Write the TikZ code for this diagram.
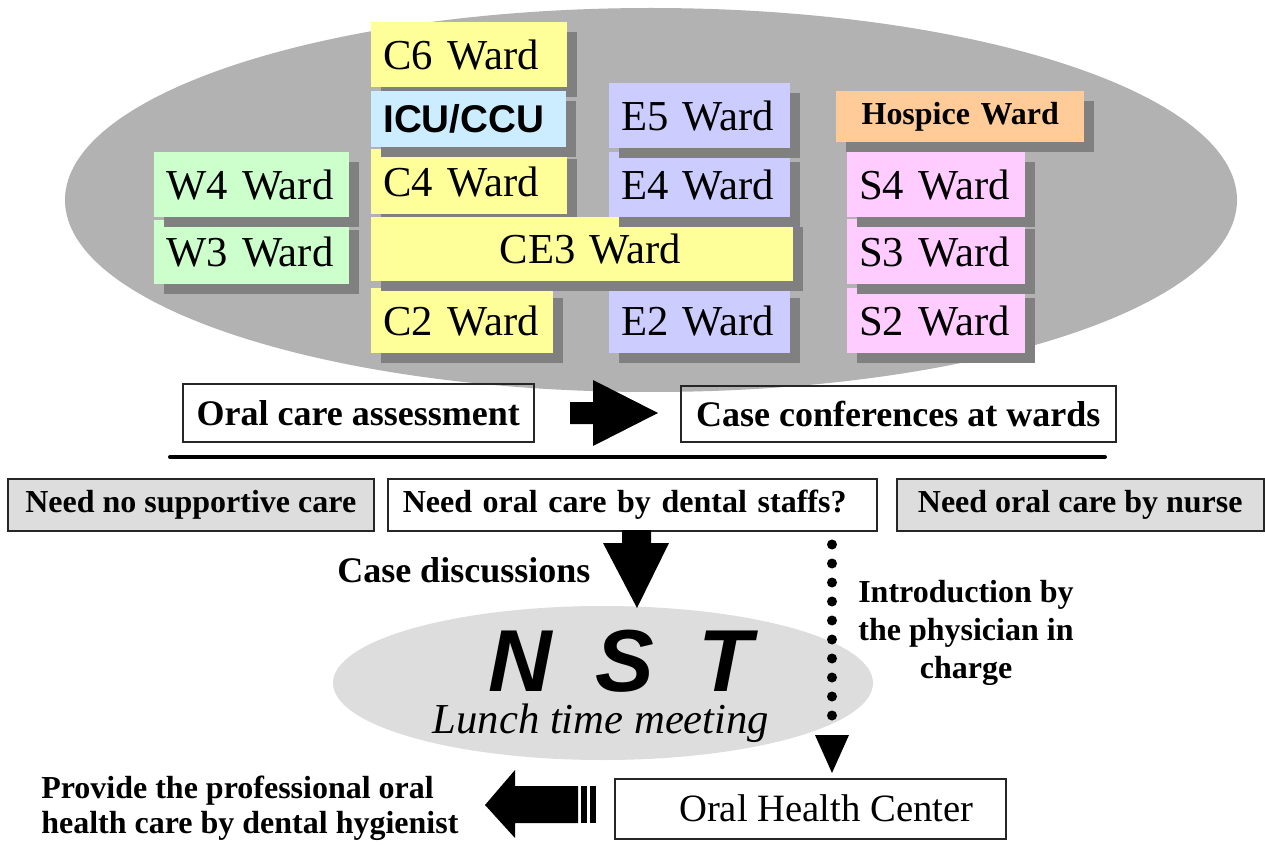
\documentclass[tikz,border=0pt]{standalone}
\usepackage{fontspec}
\setmainfont{Liberation Serif}
\setsansfont{Liberation Sans}
\usetikzlibrary{shadows,shapes.geometric}
\newdimen\px \px=0.75pt
\definecolor{yel}{HTML}{FFFF99}
\definecolor{icu}{HTML}{CCECFF}
\definecolor{grn}{HTML}{CCFFCC}
\definecolor{lav}{HTML}{CCCCFF}
\definecolor{pnk}{HTML}{FFCCFF}
\definecolor{org}{HTML}{FFCC99}
\definecolor{shd}{HTML}{808080}
\definecolor{bigell}{HTML}{B2B2B2}
\definecolor{lgray}{HTML}{DDDDDD}
\begin{document}
\begin{tikzpicture}[x=0.75pt,y=-0.75pt,
  wardbox/.style={anchor=north west, inner xsep=12\px, inner ysep=0pt, align=left,
    font=\fontsize{32}{36}\selectfont,
    drop shadow={shadow xshift=10\px, shadow yshift=-10\px, fill=shd, opacity=1}},
  lowbox/.style={anchor=north west, draw=black!85, line width=1.5\px, inner ysep=0pt,
    font=\bfseries\fontsize{27}{32}\selectfont},
  needbox/.style={anchor=north west, draw=black!85, line width=1.5\px, inner ysep=0pt,
    font=\bfseries\fontsize{24}{28}\selectfont, minimum height=52\px},
  dotline/.style={line width=10\px, line cap=round, dash pattern=on 0pt off 19\px},
  blockarrow/.style={fill=black}
]
\useasboundingbox (0,0) rectangle (1265,845);
\fill[white] (0,0) rectangle (1265,845);

% big ellipse
\node[ellipse, fill=bigell, minimum width=1172\px, minimum height=384\px, inner sep=0pt] (wards) at (651,200) {};

% ward boxes (lower rows first)
\node[wardbox, fill=yel, text width=158\px, minimum height=65\px] (c2) at (371,288) {C2 Ward};
\node[wardbox, fill=lav, text width=157\px, minimum height=65\px] (e2) at (609,288) {E2 Ward};
\node[wardbox, fill=pnk, text width=154\px, minimum height=65\px] (s2) at (847,288) {S2 Ward};
\node[wardbox, fill=grn, text width=171\px, minimum height=64\px] (w3) at (154,220) {W3 Ward};
\node[wardbox, fill=pnk, text width=154\px, minimum height=65\px] (s3) at (847,219) {S3 Ward};
\node[wardbox, fill=grn, text width=171\px, minimum height=65\px] (w4) at (154,152) {W4 Ward};
\node[wardbox, fill=yel, text width=172\px, minimum height=65\px] (c4) at (371,149) {C4 Ward};
\node[wardbox, fill=yel, text width=398\px, minimum height=64\px, align=center] (ce3) at (371,217) {\hspace*{16\px}CE3 Ward};
\node[wardbox, fill=lav, text width=157\px, minimum height=65\px] (e4) at (609,152) {E4 Ward};
\node[wardbox, fill=pnk, text width=154\px, minimum height=65\px] (s4) at (847,152) {S4 Ward};
\node[wardbox, fill=yel, text width=172\px, minimum height=65\px] (c6) at (371,22) {C6 Ward};
\node[wardbox, fill=icu, text width=171\px, minimum height=56\px, font=\sffamily\bfseries\fontsize{29}{32}\selectfont] (icu) at (371,91) {ICU/CCU};
\node[wardbox, fill=lav, text width=157\px, minimum height=65\px] (e5) at (609,83) {E5 Ward};
\node[wardbox, fill=org, text width=224\px, minimum height=51\px, align=center, font=\bfseries\fontsize{24}{28}\selectfont] (hosp) at (836,91) {Hospice Ward};

% assessment row
\node[lowbox, minimum width=351\px, minimum height=58\px] (oral) at (182,383) {Oral care assessment};
\node[lowbox, minimum width=435\px, minimum height=56\px] (case) at (680,385) {Case conferences at wards};
\fill[blockarrow] (570,402) -- (593,402) -- (593,380) -- (658,413) -- (593,446) -- (593,424) -- (570,424) -- cycle;

% separator line
\coordinate (lineL) at (170,457);
\coordinate (lineR) at (1105,457);
\draw[line width=4\px, line cap=round] (lineL) -- (lineR);

% need row
\node[needbox, fill=lgray, minimum width=366\px] (need1) at (7,478) {Need no supportive care};
\node[needbox, fill=white, inner xsep=15\px, text width=459\px, align=left] (need2) at (387,478) {Need oral care by dental staffs?};
\node[needbox, fill=lgray, minimum width=367\px] (need3) at (896,478) {Need oral care by nurse};

% NST ellipse
\node[ellipse, fill=lgray, minimum width=540\px, minimum height=154\px, inner sep=0pt] (nst) at (603,683) {};
\node[font=\sffamily\bfseries\itshape\fontsize{66}{68}\selectfont, inner sep=0pt] (nsttext) at (620,661) {N\hspace{0.5em}S\hspace{0.5em}T};
\node[anchor=base, font=\itshape\fontsize{32}{36}\selectfont, inner sep=0pt] (lunch) at (601,733) {Lunch time meeting};

% down block arrow: need2 -> nst
\fill[blockarrow] (622,530) -- (651,530) -- (651,543) -- (669,543) -- (637,608) -- (603,543) -- (622,543) -- cycle;
\node[anchor=base west, font=\bfseries\fontsize{27}{32}\selectfont, inner sep=0pt] (casedisc) at (337,582) {Case discussions};

% Oral health center
\node[lowbox, font=\fontsize{29}{32}\selectfont, minimum width=391\px, minimum height=60\px] (ohc) at (614,778) {\hspace*{32\px}Oral Health Center};

% dotted connector need2 -> ohc
\coordinate (dotx) at (832,0);
\draw[dotline] ([yshift=-13\px]need2.south -| dotx) -- ([yshift=62\px]ohc.north -| dotx);
\fill[blockarrow] ([xshift=-17\px,yshift=43\px]ohc.north -| dotx) -- ([xshift=17\px,yshift=43\px]ohc.north -| dotx) -- ([yshift=5\px]ohc.north -| dotx) -- cycle;
\node[anchor=north, align=center, font=\bfseries\fontsize{24}{28.5}\selectfont, inner sep=0pt] (intro) at (966,580) {Introduction by\\the physician in\\charge};

% left block arrow from ohc
\fill[blockarrow] (485,805) -- (515,770) -- (515,786) -- (578,786) -- (578,823) -- (515,823) -- (515,838) -- cycle;
\fill[blockarrow] (581,786) rectangle (587,823);
\fill[blockarrow] (590,786) rectangle (596,823);
\node[anchor=north west, align=left, font=\bfseries\fontsize{24}{26.25}\selectfont, inner sep=0pt] (provide) at (41,776) {Provide the professional oral\\health care by dental hygienist};
\end{tikzpicture}
\end{document}
